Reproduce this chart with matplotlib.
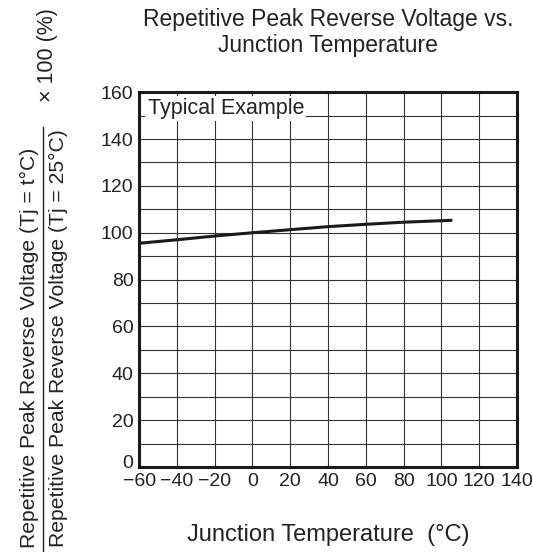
import numpy as np
import matplotlib.transforms as mtransforms
from matplotlib import pyplot as plt

plt.rcParams['font.family'] = ['Liberation Sans', 'DejaVu Sans']

# curve
temp = [-60, -40, -20, 0, 20, 40, 60, 80, 105]
ratio = [95.5, 97.0, 98.6, 100.0, 101.3, 102.6, 103.6, 104.5, 105.3]

x_ticks = [-60, -40, -20, 0, 20, 40, 60, 80, 100, 120, 140]
x_labels = ['\u221260', '\u221240', '\u221220', '0', '20', '40', '60', '80', '100', '120', '140']
y_ticks = [0, 20, 40, 60, 80, 100, 120, 140, 160]

fig = plt.figure(figsize=(5.33, 5.52), dpi=100)
ax = fig.add_axes([0.261, 0.154, 0.709, 0.679])

ax.plot(temp, ratio, color='#1a1a1a', linewidth=2.2, zorder=4)

ax.set_xlim(-60, 140)
ax.set_ylim(0, 160)
ax.set_xticks(x_ticks)
ax.set_xticklabels(x_labels)
ax.set_yticks(y_ticks)
ax.set_yticks(np.arange(10, 160, 20), minor=True)
ax.tick_params(which='both', length=0, labelsize=14, pad=4, labelcolor='#222222')
ax.grid(True, which='both', color='#333333', linewidth=0.8)
ax.set_axisbelow(True)
for s in ax.spines.values():
    s.set_linewidth(2.2)
    s.set_color('#1a1a1a')

# lift the "0" label a bit so it clears "-60"
ylab0 = ax.get_yticklabels()[0]
ylab0.set_transform(ylab0.get_transform() + mtransforms.ScaledTranslation(0, 4 / 72, fig.dpi_scale_trans))

ax.text(-55.5, 153, 'Typical Example', fontsize=15.5, color='#222222', va='center', ha='left',
        bbox=dict(facecolor='white', edgecolor='none', pad=1.5), zorder=3)

fig.text(0.615, 0.985, 'Repetitive Peak Reverse Voltage vs.\nJunction Temperature',
         ha='center', va='top', fontsize=16.5, color='#222222', linespacing=1.15)
fig.text(0.615, 0.031, 'Junction Temperature  (\u00b0C)', ha='center', va='center',
         fontsize=17, color='#222222')

# y label as a fraction
fig.text(0.056, 0.37, 'Repetitive Peak Reverse Voltage (Tj = t\u00b0C)', rotation=90,
         ha='center', va='center', fontsize=15.2, color='#222222')
fig.text(0.109, 0.387, 'Repetitive Peak Reverse Voltage (Tj = 25\u00b0C)', rotation=90,
         ha='center', va='center', fontsize=15.2, color='#222222')
fig.add_artist(plt.Line2D([0.081, 0.081], [0.0, 0.77], color='#222222', linewidth=1.0))
fig.text(0.089, 0.9, '\u00d7 100 (%)', rotation=90, ha='center', va='center',
         fontsize=15.5, color='#222222')

fig.savefig('out.png', dpi=100)
